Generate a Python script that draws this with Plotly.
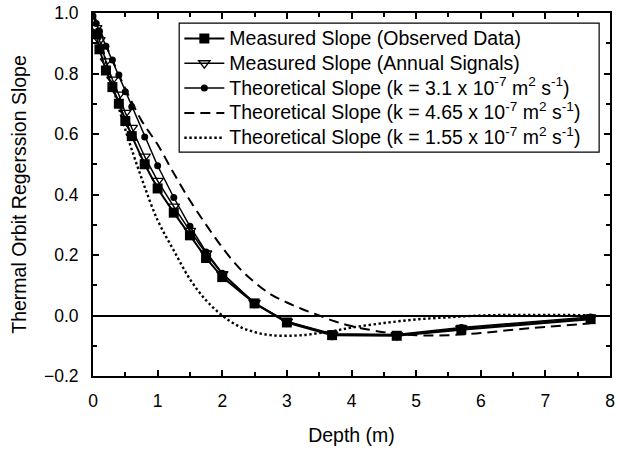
import plotly.graph_objects as go

obs_depth = [0.05, 0.1, 0.2, 0.3, 0.4, 0.5, 0.6, 0.8, 1.0, 1.25, 1.5, 1.75, 2.0, 2.5, 3.0, 3.7, 4.7, 5.7, 7.7]
obs_slope = [0.93, 0.88, 0.81, 0.755, 0.70, 0.643, 0.593, 0.50, 0.42, 0.34, 0.265, 0.19, 0.127, 0.04, -0.023, -0.065, -0.067, -0.047, -0.012]
annual_slope = [0.95, 0.91, 0.84, 0.78, 0.73, 0.67, 0.62, 0.525, 0.445, 0.36, 0.28, 0.205, 0.137, 0.042, -0.02, -0.063, -0.065, -0.043, -0.008]

theo_depth = [0.0, 0.05, 0.1, 0.2, 0.3, 0.4, 0.5, 0.6, 0.8, 1.0, 1.25, 1.5, 1.75, 2.0, 2.5, 3.0, 3.7, 4.7, 5.7, 7.7]
theo_slope = [0.99, 0.965, 0.94, 0.89, 0.845, 0.795, 0.74, 0.69, 0.59, 0.495, 0.39, 0.295, 0.21, 0.14, 0.04, -0.02, -0.06, -0.063, -0.04, -0.005]

curve_depth = [0.0, 0.25, 0.5, 0.75, 1.0, 1.25, 1.5, 1.75, 2.0, 2.25, 2.5, 2.75, 3.0, 3.25, 3.5, 3.75, 4.0, 4.5, 5.0, 5.5, 6.0, 6.5, 7.0, 7.7]
high_k_slope = [1.0, 0.87, 0.75, 0.645, 0.565, 0.47, 0.38, 0.30, 0.225, 0.16, 0.11, 0.07, 0.043, 0.02, 0.0, -0.02, -0.035, -0.055, -0.065, -0.065, -0.058, -0.047, -0.038, -0.026]
low_k_slope = [1.0, 0.80, 0.615, 0.455, 0.315, 0.215, 0.12, 0.05, 0.0, -0.035, -0.055, -0.065, -0.067, -0.065, -0.058, -0.05, -0.04, -0.025, -0.013, -0.006, 0.0, 0.002, 0.002, 0.001]

names = [
    "Measured Slope (Observed Data)",
    "Measured Slope (Annual Signals)",
    "Theoretical Slope (k = 3.1 x 10<sup>-7</sup> m<sup>2</sup> s<sup>-1</sup>)",
    "Theoretical Slope (k = 4.65 x 10<sup>-7</sup> m<sup>2</sup> s<sup>-1</sup>)",
    "Theoretical Slope (k = 1.55 x 10<sup>-7</sup> m<sup>2</sup> s<sup>-1</sup>)",
]


def big(t):
    return '<span style="font-size:19.5px">' + t + '</span>'


fig = go.Figure()
fig.add_trace(go.Scatter(x=curve_depth, y=high_k_slope, name=big(names[3]), mode="lines",
                         line=dict(color="black", width=2, dash="10px,6px", shape="spline"), legendrank=4))
fig.add_trace(go.Scatter(x=curve_depth, y=low_k_slope, name=big(names[4]), mode="lines",
                         line=dict(color="black", width=2.4, dash="2.4px,2.6px", shape="spline"), legendrank=5))
fig.add_trace(go.Scatter(x=theo_depth, y=theo_slope, name=big(names[2]), mode="lines+markers",
                         line=dict(color="black", width=1.5),
                         marker=dict(symbol="circle", size=7, color="black"), legendrank=3))
fig.add_trace(go.Scatter(x=obs_depth, y=annual_slope, name=big(names[1]), mode="lines+markers",
                         line=dict(color="black", width=1.5),
                         marker=dict(symbol="triangle-down-open", size=10, color="black", line=dict(width=1.3)), legendrank=2))
fig.add_trace(go.Scatter(x=obs_depth, y=obs_slope, name=big(names[0]), mode="lines+markers",
                         line=dict(color="black", width=2),
                         marker=dict(symbol="square", size=10, color="black"), legendrank=1))

font = "Liberation Sans, Arial, sans-serif"
fig.update_layout(
    width=618, height=455,
    margin=dict(l=93, r=3, t=13, b=79),
    paper_bgcolor="white", plot_bgcolor="white",
    font=dict(family=font, size=17, color="black"),
    showlegend=True,
    legend=dict(x=0.167, y=0.978, xanchor="left", yanchor="top",
                borderwidth=0, bgcolor="rgba(0,0,0,0)",
                font=dict(size=16.8, family=font), tracegroupgap=0,
                itemwidth=40, traceorder="normal"),
    shapes=[dict(type="rect", xref="paper", yref="paper",
                 x0=0.1667, x1=0.979, y0=0.617, y1=0.972,
                 line=dict(color="black", width=1.2), fillcolor="rgba(0,0,0,0)", layer="below")],
    xaxis=dict(range=[0, 8], dtick=1, tick0=0, showgrid=False, zeroline=False,
               showline=True, linecolor="black", linewidth=2, mirror="ticks",
               ticks="inside", ticklen=6, tickwidth=1.5, tickcolor="black",
               ticklabelstandoff=8, ticklabeloverflow="allow",
               minor=dict(dtick=0.5, ticks="inside", ticklen=4, tickwidth=1.5, tickcolor="black"),
               title=dict(text="Depth (m)", font=dict(size=19.5), standoff=18),
               tickfont=dict(size=17.5)),
    yaxis=dict(range=[-0.2, 1.0], dtick=0.2, tick0=0, tickformat=".1f", showgrid=False,
               zeroline=True, zerolinecolor="black", zerolinewidth=1.5,
               showline=True, linecolor="black", linewidth=2, mirror="ticks",
               ticks="inside", ticklen=6, tickwidth=1.5, tickcolor="black",
               ticklabelstandoff=9, ticklabeloverflow="allow",
               minor=dict(dtick=0.1, ticks="inside", ticklen=4, tickwidth=1.5, tickcolor="black"),
               title=dict(text="Thermal Orbit Regerssion Slope", font=dict(size=19.5), standoff=12),
               tickfont=dict(size=17.5)),
)

fig.write_html("out.html", config={"displayModeBar": False},
               post_script="document.body.style.margin='0px';")
